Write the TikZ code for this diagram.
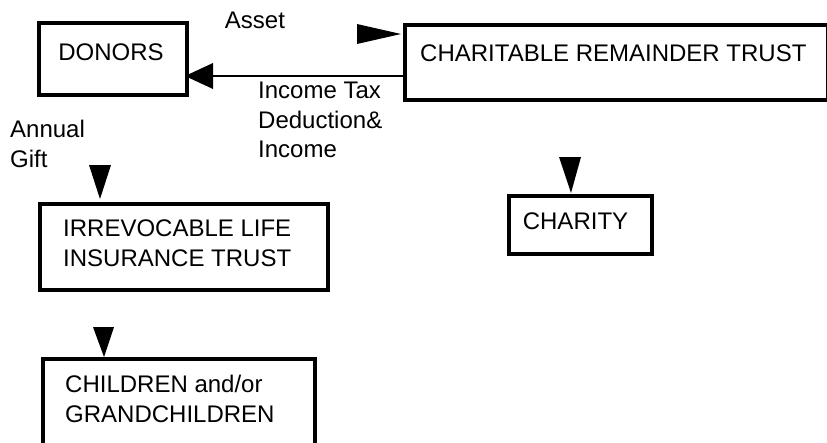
\documentclass[tikz,border=0pt]{standalone}
\usepackage{fontspec}
\setmainfont{Liberation Sans}
\begin{document}
\begin{tikzpicture}[x=1pt,y=-1pt,
  boxframe/.style={draw=black,line width=3.6pt,inner sep=0pt,anchor=north west},
  txt/.style={inner sep=0pt,font=\fontsize{24}{29.5}\selectfont,align=left},
  head/.style={fill=black,draw=none},
  conn/.style={draw=black,line width=1.5pt}]
\clip (0,0) rectangle (827,442);
% boxes
\node[boxframe,minimum width=148pt,minimum height=72pt] (donors) at (37,21) {};
\node[txt] (donorsT) at (111,52.5) {DONORS};
\node[boxframe,minimum width=423pt,minimum height=75pt] (crt) at (403,23) {};
\node[txt,anchor=west] (crtT) at (420,53) {CHARITABLE REMAINDER TRUST};
\node[boxframe,minimum width=143pt,minimum height=58pt] (charity) at (507,194) {};
\node[txt] (charityT) at (575.5,221) {CHARITY};
\node[boxframe,minimum width=288pt,minimum height=86pt] (ilit) at (38,202) {};
\node[txt,anchor=north west] (ilitT) at (63,220) {IRREVOCABLE LIFE\\INSURANCE TRUST};
\node[boxframe,minimum width=272pt,minimum height=110pt] (kids) at (41,357) {};
\node[txt,anchor=north west] (kidsT) at (65,375) {CHILDREN and/or\\GRANDCHILDREN};
% labels
\node[txt] (asset) at (255,20) {Asset};
\node[txt,anchor=north west] (income) at (258,82) {Income Tax\\Deduction\&\\Income};
\node[txt,anchor=north west] (gift) at (10,120) {Annual\\Gift};
% connector CRT -> donors
\coordinate (dtip) at (185,76);
\path[conn] (crt.west |- dtip) -- (213,76);
\fill[head] (dtip) -- (213,63) -- (213,89) -- cycle;
% standalone arrowheads
\coordinate (atip) at (401,34);
\fill[head] (atip) -- (357,24) -- (357,44) -- cycle;
\coordinate (itip) at (100,199);
\fill[head] (itip) -- (89,165) -- (111,165) -- cycle;
\coordinate (ktip) at (104,357);
\fill[head] (ktip) -- (93,327) -- (114,327) -- cycle;
\coordinate (ctip) at (571,193);
\fill[head] (ctip) -- (559,157) -- (581,157) -- cycle;
\end{tikzpicture}
\end{document}
